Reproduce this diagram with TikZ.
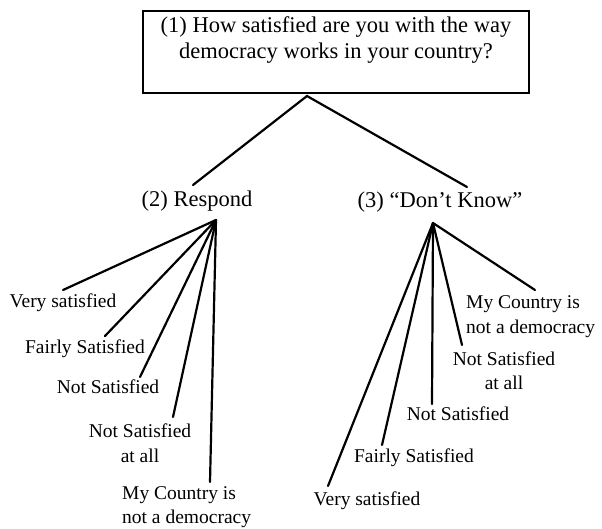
\documentclass[tikz,border=0pt]{standalone}
\usepackage{fontspec}
\setmainfont{Liberation Serif}
\begin{document}
\begin{tikzpicture}[x=1pt,y=-1pt,
  lbl/.style={inner sep=0pt,anchor=base,font=\fontsize{19.5}{24}\selectfont},
  lblw/.style={inner sep=0pt,anchor=base west,font=\fontsize{19.5}{24}\selectfont},
  head/.style={inner sep=0pt,anchor=base,font=\fontsize{22.5}{26}\selectfont},
  link/.style={line width=2.2pt,line cap=round}]
\useasboundingbox (0,0) rectangle (602,528);
% question box
\draw[line width=2.6pt] (143,11) rectangle (529,93);
\node[head] (q1) at (336,32) {(1) How satisfied are you with the way};
\node[head] (q2) at (336,58) {democracy works in your country?};
\coordinate (top) at (307,96);
% branches
\node[head] (resp) at (197,206) {(2) Respond};
\node[head] (dk) at (440,207) {(3) “Don’t Know”};
\coordinate (respend) at (193,185);
\coordinate (dkend) at (467,187);
\draw[link] (respend) -- (top) -- (dkend);
% left fan
\coordinate (la) at (216,220);
\node[lbl] (lvs) at (63,307) {Very satisfied};
\node[lbl] (lfs) at (85,353) {Fairly Satisfied};
\node[lbl] (lns) at (108,393) {Not Satisfied};
\node[lbl] (lna1) at (140,437) {Not Satisfied};
\node[lbl] (lna2) at (140,462) {at all};
\node[lblw] (lmc1) at (122,499) {My Country is};
\node[lblw] (lmc2) at (122,523) {not a democracy};
\coordinate (lvse) at (63,290);
\coordinate (lfse) at (105,336);
\coordinate (lnse) at (140,377);
\coordinate (lnae) at (173,417);
\coordinate (lmce) at (210,482);
\foreach \e in {lvse,lfse,lnse,lnae,lmce} \draw[link] (la) -- (\e);
% right fan
\coordinate (ra) at (433,223);
\node[lblw] (rmc1) at (466,308) {My Country is};
\node[lblw] (rmc2) at (466,333) {not a democracy};
\node[lbl] (rna1) at (504,365) {Not Satisfied};
\node[lbl] (rna2) at (504,389) {at all};
\node[lbl] (rns) at (458,420) {Not Satisfied};
\node[lbl] (rfs) at (414,462) {Fairly Satisfied};
\node[lbl] (rvs) at (367,505) {Very satisfied};
\coordinate (rmce) at (535,290);
\coordinate (rnae) at (462,345);
\coordinate (rnse) at (432,404);
\coordinate (rfse) at (382,445);
\coordinate (rvse) at (328,486);
\foreach \e in {rmce,rnae,rnse,rfse,rvse} \draw[link] (ra) -- (\e);
\end{tikzpicture}
\end{document}
